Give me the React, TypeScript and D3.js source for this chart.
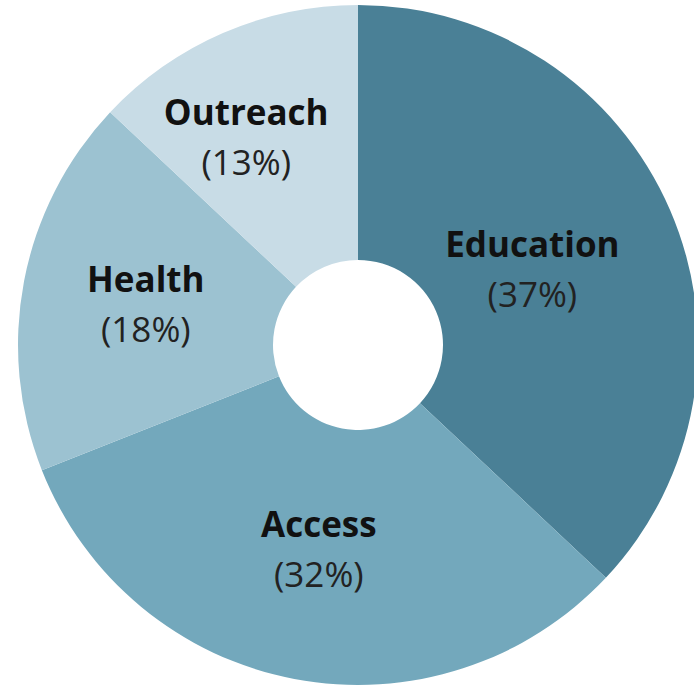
import React, { useEffect, useRef } from "react";
import * as d3 from "d3";

const categories = ["Education", "Access", "Health", "Outreach"];
const shares = [37, 32, 18, 13];
const colors = ["#4a8096", "#73a8bc", "#9cc2d1", "#c8dce6"];
// label placement tweaks per slice (styling, not data)
const labelRadii = [190, 209, 216, 235];
const labelAngleShift = [0, 0, 0, -5];

const width = 694;
const height = 685;

type Slice = { name: string; value: number; i: number };

export default function App() {
  const svgRef = useRef<SVGSVGElement>(null);

  useEffect(() => {
    if (!svgRef.current) return;
    const svg = d3.select(svgRef.current);
    svg.selectAll("*").remove();

    const cx = 358;
    const cy = 345;
    const outer = 340;
    const inner = 85;

    const data: Slice[] = categories.map((name, i) => ({ name, value: shares[i], i }));

    const pie = d3
      .pie<Slice>()
      .value((d) => d.value)
      .sort(null);

    const arc = d3
      .arc<d3.PieArcDatum<Slice>>()
      .innerRadius(inner)
      .outerRadius(outer);

    const g = svg.append("g").attr("transform", `translate(${cx},${cy})`);

    const arcs = pie(data);

    g.selectAll("path")
      .data(arcs)
      .enter()
      .append("path")
      .attr("d", arc)
      .attr("fill", (d) => colors[d.data.i]);

    const labels = g
      .selectAll(".label")
      .data(arcs)
      .enter()
      .append("g")
      .attr("class", "label")
      .attr("transform", (d) => {
        const r = labelRadii[d.data.i];
        const a = (d.startAngle + d.endAngle) / 2 + (labelAngleShift[d.data.i] * Math.PI) / 180;
        const x = r * Math.sin(a);
        const y = -r * Math.cos(a);
        return `translate(${x},${y})`;
      });

    labels
      .append("text")
      .attr("text-anchor", "middle")
      .attr("y", -13)
      .style("font-family", "'Open Sans', sans-serif")
      .style("font-weight", "bold")
      .style("font-size", "35px")
      .style("fill", "#111")
      .text((d) => d.data.name);

    labels
      .append("text")
      .attr("text-anchor", "middle")
      .attr("y", 37)
      .style("font-family", "'Open Sans', sans-serif")
      .style("font-size", "35px")
      .style("fill", "#222")
      .text((d) => `(${d.data.value}%)`);
  }, []);

  return (
    <svg
      ref={svgRef}
      width={width}
      height={height}
      style={{ position: "absolute", left: 0, top: 0, background: "#fff" }}
    />
  );
}
